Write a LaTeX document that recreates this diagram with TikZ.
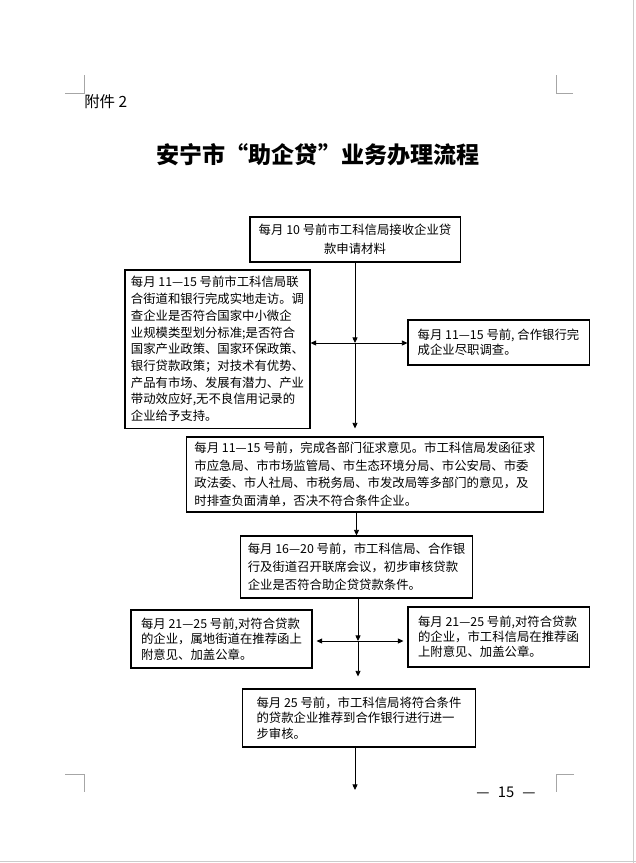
\documentclass[tikz,border=0pt]{standalone}
\usepackage{fontspec}
\setmainfont{Noto Sans CJK SC}
\usetikzlibrary{arrows.meta}
\tikzset{
    flowbox/.style = {rectangle, draw=black, line width=0.75pt, inner sep=2pt, align=left, font=\fontsize{8.8}{#1}\selectfont},
    flowbox/.default = 12,
    titletext/.style = {font=\fontsize{16.4}{20}\selectfont\bfseries},
    cropmark/.style = {draw=black!35, line width=0.5pt},
    pageline/.style = {draw=black!20, line width=0.6pt},
    flowline/.style = {draw=black, line width=0.6pt}
}

\begin{document}
\begin{tikzpicture}[x=0.025cm, y=-0.025cm, >={Triangle[length=4pt,width=3.6pt]}]
    \useasboundingbox (0,0) rectangle (636,863);
    \draw [pageline] (633,0) -- (633,863);
    \draw [pageline] (0,861) -- (636,861);
    \draw [cropmark] (65,93) -- (84,93) -- (84,75);
    \draw [cropmark] (573,93) -- (556,93) -- (556,75);
    \draw [cropmark] (65,774) -- (84,774) -- (84,792);
    \draw [cropmark] (574,774) -- (556,774) -- (556,792);

    \node [anchor=west, font=\fontsize{11}{13}\selectfont, inner sep=0pt] (annex) at (84,102) {附件 2};
    \node [titletext] (title) at (318,155) {安宁市“助企贷”业务办理流程};
    \node [font=\fontsize{10.5}{12}\selectfont, inner sep=0pt] (pagenum) at (506,792) {—\hspace{0.55em}15\hspace{0.55em}—};

    \node [flowbox=13.5, align=center, minimum width=5.25cm, minimum height=1.125cm] (apply) at (355,239.5) {每月 10 号前市工科信局接收企业贷\\款申请材料};
    \node [flowbox=11.9, minimum width=4.625cm, minimum height=3.95cm] (visit) at (217.5,349) {每月 11—15 号前市工科信局联\\合街道和银行完成实地走访。调\\查企业是否符合国家中小微企\\业规模类型划分标准;是否符合\\国家产业政策、国家环保政策、\\银行贷款政策；对技术有优势、\\产品有市场、发展有潜力、产业\\带动效应好,无不良信用记录的\\企业给予支持。};
    \node [flowbox=10.5, minimum width=4.525cm, minimum height=1.125cm] (bank) at (498.5,342.5) {每月 11—15 号前, 合作银行完\\成企业尽职调查。};
    \node [flowbox=12.4, minimum width=8.9cm, minimum height=1.875cm] (opinion) at (365,474.5) {每月 11—15 号前，完成各部门征求意见。市工科信局发函征求\\市应急局、市市场监管局、市生态环境分局、市公安局、市委\\政法委、市人社局、市税务局、市发改局等多部门的意见，及\\时排查负面清单，否决不符合条件企业。};
    \node [flowbox=12.8, minimum width=5.775cm, minimum height=1.55cm] (meet) at (356.5,567) {每月 16—20 号前，市工科信局、合作银\\行及街道召开联席会议，初步审核贷款\\企业是否符合助企贷贷款条件。};
    \node [flowbox=10.9, minimum width=4.525cm, minimum height=1.45cm] (street) at (221.5,639) {每月 21—25 号前,对符合贷款\\的企业，属地街道在推荐函上\\附意见、加盖公章。};
    \node [flowbox=10.8, minimum width=4.525cm, minimum height=1.5cm] (bureau) at (498.5,637) {每月 21—25 号前,对符合贷款\\的企业，市工科信局在推荐函\\上附意见、加盖公章。};
    \node [flowbox=11, minimum width=5.8cm, minimum height=1.45cm] (recommend) at (359,718) {每月 25 号前，市工科信局将符合条件\\的贷款企业推荐到合作银行进行进一\\步审核。};

    \coordinate (j1) at (355,343);
    \coordinate (j2) at (358,641);
    \coordinate (end) at (355,790);

    \draw [flowline, ->] (apply) -- (j1);
    \draw [flowline, ->, shorten >=0.2cm] (j1) -- (j1 |- opinion.north);
    \draw [flowline, ->] (j1) -- (visit.east |- j1);
    \draw [flowline, ->] (j1) -- (bank.west |- j1);
    \draw [flowline, ->] (meet.north |- opinion.south) -- (meet.north);
    \draw [flowline, ->] (j2 |- meet.south) -- (j2);
    \draw [flowline, ->, shorten >=0.1cm] (j2) -- (street.east |- j2);
    \draw [flowline, ->, shorten >=0.1cm] (j2) -- (bureau.west |- j2);
    \draw [flowline, ->, shorten >=0.3cm] (j2) -- (j2 |- recommend.north);
    \draw [flowline, ->] (end |- recommend.south) -- (end);
\end{tikzpicture}
\end{document}
